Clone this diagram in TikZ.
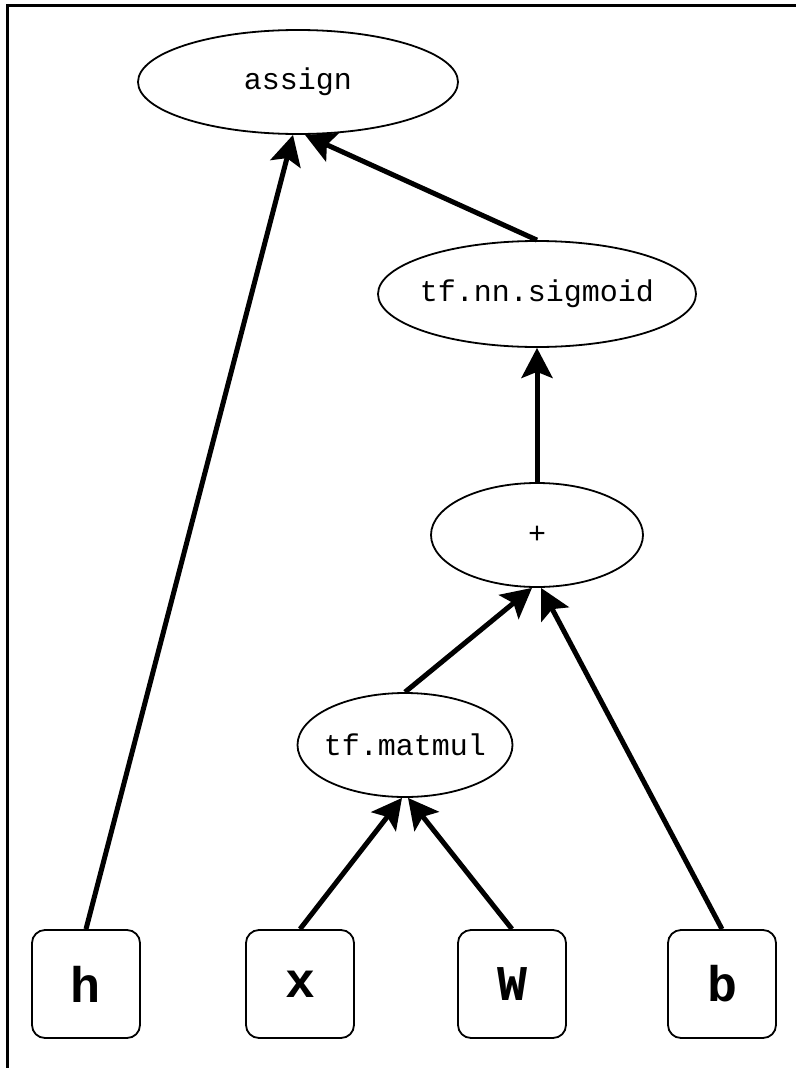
\documentclass[tikz,border=0pt]{standalone}
\usepackage{fontspec}
\setmonofont{Liberation Mono}
\usetikzlibrary{shapes.geometric,arrows.meta}
\tikzset{
  op/.style={draw,ellipse,line width=1.8pt,inner ysep=0pt,inner xsep=-5pt,font=\ttfamily\fontsize{30}{36}\selectfont},
  var/.style={draw,rectangle,rounded corners=13pt,line width=1.8pt,minimum width=108pt,minimum height=108pt,inner sep=0pt,font=\ttfamily\bfseries\fontsize{50}{60}\selectfont},
  edge/.style={line width=5pt,-{Stealth[length=30pt,width=31pt,inset=6pt]}}
}
\begin{document}
\begin{tikzpicture}[x=1pt,y=-1pt]
  \useasboundingbox (0,0) rectangle (796,1068);
  \draw[line width=3pt] (7,1068) -- (7,5) -- (796,5); %cadre
  \node[op,minimum width=320pt,minimum height=104pt] (assign) at (298,82) {assign};
  \node[op,minimum width=318pt,minimum height=106pt] (sigmoid) at (537,294) {tf.nn.sigmoid};
  \node[op,minimum width=212pt,minimum height=104pt] (plus) at (537,535) {+};
  \node[op,minimum width=215pt,minimum height=104pt] (matmul) at (405,745) {tf.matmul};
  \node[var] (h) at (86,984) {h};
  \node[var] (x) at (300,984) {x};
  \node[var] (W) at (512,984) {W};
  \node[var] (b) at (722,984) {b};
  \draw[edge] (h.north) -- ([xshift=-5pt]assign.south);
  \draw[edge] (sigmoid.north) -- ([xshift=7pt]assign.south);
  \draw[edge] (plus.north) -- (sigmoid.south);
  \draw[edge] (matmul.north) -- ([xshift=-5pt]plus.south);
  \draw[edge] (b.north) -- ([xshift=4pt]plus.south);
  \draw[edge] (x.north) -- ([xshift=-3pt]matmul.south);
  \draw[edge] (W.north) -- ([xshift=3pt]matmul.south);
\end{tikzpicture}
\end{document}
